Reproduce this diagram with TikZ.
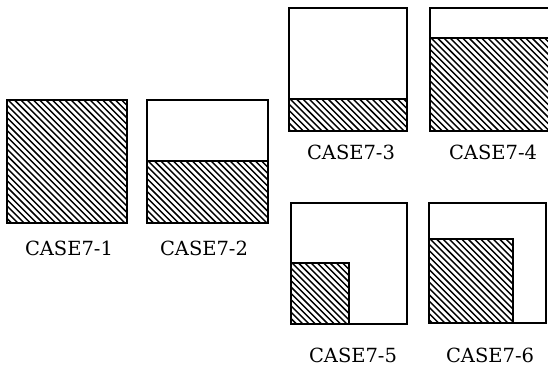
\documentclass[tikz,border=0pt]{standalone}
\usepackage{fontspec}
\setmainfont{DejaVu Serif}
\newcommand\hatchrect[4]{%
  \begin{scope}
    \clip (#1,#2) rectangle (#3,#4);
    \foreach \k in {0,6.3,...,290}{\draw[hatchline] (#1-150+\k,#2) -- ++(150,150);}
  \end{scope}}
\begin{document}
\begin{tikzpicture}[x=1pt,y=-1pt,
  frame/.style={draw=black,line width=1.2pt},
  hatchline/.style={line width=1.45pt},
  lbl/.style={font=\fontsize{19.5}{22}\selectfont, inner sep=0pt, anchor=base}]
\useasboundingbox (0,0) rectangle (548,367);
% CASE7-1
\hatchrect{7}{100}{127}{223}
\draw[frame] (7,100) rectangle (127,223);
\node[lbl] (l1) at (69,255) {CASE7-1};
% CASE7-2
\hatchrect{147}{161}{268}{223}
\draw[frame] (147,100) rectangle (268,223);
\draw[frame] (147,161) -- (268,161);
\node[lbl] (l2) at (204,255) {CASE7-2};
% CASE7-3
\hatchrect{289}{99}{407}{131}
\draw[frame] (289,8) rectangle (407,131);
\draw[frame] (289,99) -- (407,99);
\node[lbl] (l3) at (351,159) {CASE7-3};
% CASE7-4
\hatchrect{430}{38}{548}{131}
\draw[frame] (548,8) -- (430,8) -- (430,131) -- (548,131);
\draw[frame] (430,38) -- (548,38);
\node[lbl] (l4) at (493,159) {CASE7-4};
% CASE7-5
\hatchrect{291}{263}{349}{324}
\draw[frame] (291,263) rectangle (349,324);
\draw[frame] (291,203) rectangle (407,324);
\node[lbl] (l5) at (353,362) {CASE7-5};
% CASE7-6
\hatchrect{429}{239}{513}{323}
\draw[frame] (429,239) rectangle (513,323);
\draw[frame] (429,203) rectangle (546,323);
\node[lbl] (l6) at (490,362) {CASE7-6};
\end{tikzpicture}
\end{document}
